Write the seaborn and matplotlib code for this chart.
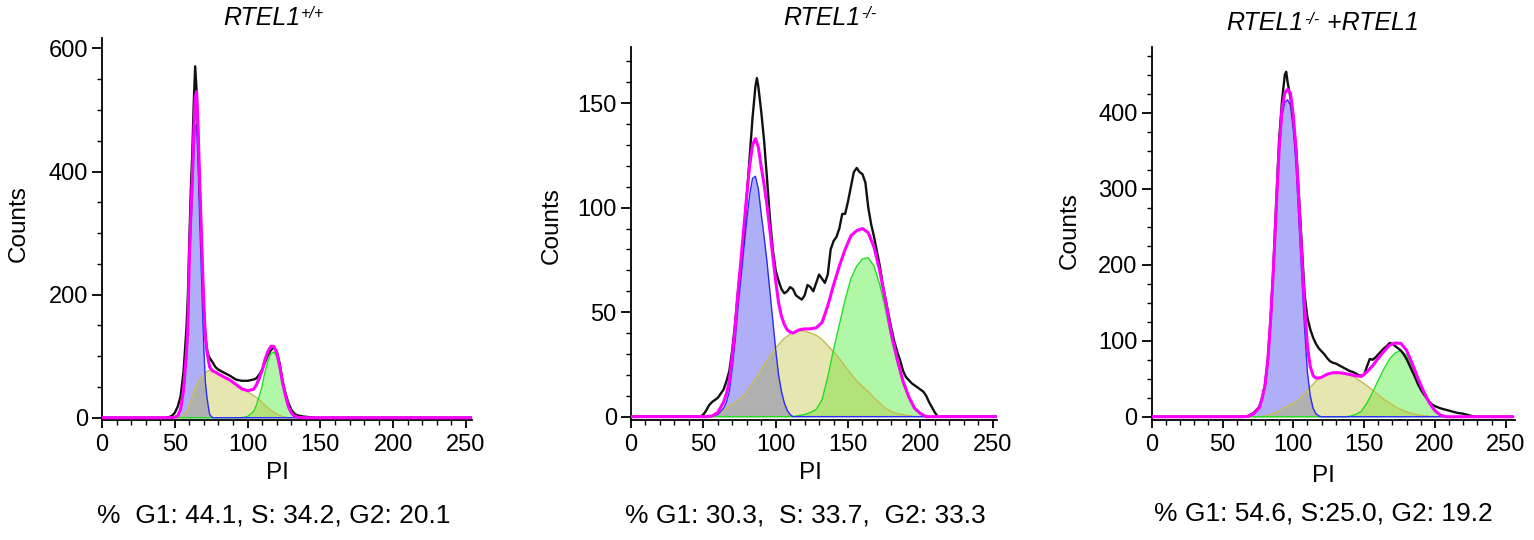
import numpy as np
import matplotlib
matplotlib.use("Agg")
import matplotlib.pyplot as plt
import seaborn as sns
from matplotlib.ticker import MultipleLocator

# ---------------------------------------------------------------- data
title_main = ["RTEL1", "RTEL1", "RTEL1"]
title_sup = ["+/+", "-/-", "-/-"]
title_tail = ["", "", " +RTEL1"]
stats_text = ["%  G1: 44.1, S: 34.2, G2: 20.1",
              "% G1: 30.3,  S: 33.7,  G2: 33.3",
              "% G1: 54.6, S:25.0, G2: 19.2"]
x_label = "PI"
y_label = "Counts"
x_ticks = [0, 50, 100, 150, 200, 250]
y_ticks_1 = [0, 200, 400, 600]
y_ticks_2 = [0, 50, 100, 150]
y_ticks_3 = [0, 100, 200, 300, 400]

# panel 1 : RTEL1 +/+
p1_pi = [0, 44, 46, 48, 50, 52, 54, 56, 58, 59, 60, 61, 62, 63, 64, 65, 66, 67, 68, 69,
         70, 71, 72, 73, 74, 76, 78, 80, 84, 88, 92, 96, 100, 104, 106, 108, 110, 112, 114, 116,
         118, 120, 122, 124, 126, 128, 130, 132, 134, 138, 142, 146, 255]
p1_raw = [0, 0, 1, 3, 8, 18, 35, 75, 145, 200, 290, 370, 430, 510, 571, 530, 460, 380, 310, 240,
          175, 135, 112, 102, 97, 90, 82, 78, 73, 68, 62, 60, 60, 62, 64, 70, 78, 90, 102, 110,
          114, 108, 88, 60, 40, 24, 13, 7, 4, 2, 1, 0, 0]
p1_g1 = [0, 0, 0, 0, 1, 3, 13, 41, 95, 136, 240, 303, 355, 418, 472, 477, 412, 328, 255, 178,
         110, 58, 35, 18, 5, 0, 0, 0, 0, 0, 0, 0, 0, 0, 0, 0, 0, 0, 0, 0,
         0, 0, 0, 0, 0, 0, 0, 0, 0, 0, 0, 0, 0]
p1_s = [0, 0, 0, 0, 0, 0, 1, 4, 10, 14, 20, 27, 35, 42, 48, 53, 58, 62, 65, 68,
        71, 73, 75, 76, 77, 76, 74, 71, 66, 61, 54, 47, 42, 36, 33, 29, 25, 20, 16, 12,
        9, 6, 4, 2, 1, 0, 0, 0, 0, 0, 0, 0, 0]
p1_g2 = [0, 0, 0, 0, 0, 0, 0, 0, 0, 0, 0, 0, 0, 0, 0, 0, 0, 0, 0, 0,
         0, 0, 0, 0, 0, 0, 0, 0, 0, 0, 0, 0, 2, 10, 20, 35, 52, 75, 92, 104,
         107, 100, 80, 55, 35, 18, 8, 3, 1, 0, 0, 0, 0]
p1_fit = [0, 0, 0, 0, 1, 3, 14, 45, 105, 150, 260, 330, 390, 460, 520, 530, 470, 390, 320, 246,
          181, 131, 110, 94, 82, 76, 74, 71, 66, 61, 54, 47, 44, 46, 53, 64, 77, 95, 108, 116,
          116, 106, 84, 57, 36, 18, 8, 3, 1, 0, 0, 0, 0]

# panel 2 : RTEL1 -/-
p2_pi = [0, 50, 52, 56, 60, 64, 66, 68, 70, 72, 74, 76, 78, 80, 82, 84, 86, 88, 90, 92,
         94, 96, 98, 100, 102, 104, 106, 108, 110, 112, 116, 120, 124, 128, 132, 136, 140, 144, 148, 152,
         156, 160, 164, 168, 172, 176, 180, 184, 188, 192, 196, 200, 204, 255]
p2_g1 = [0, 0, 0, 0.3, 1, 4, 7, 12, 23, 36, 52, 66, 80, 94, 106, 114, 115, 109, 97, 86,
         74, 60, 46, 32, 20, 12, 6.5, 3, 1, 0, 0, 0, 0, 0, 0, 0, 0, 0, 0, 0,
         0, 0, 0, 0, 0, 0, 0, 0, 0, 0, 0, 0, 0, 0]
p2_s = [0, 0, 0, 0, 1, 3, 4, 5, 6, 7, 8, 9, 10.5, 12, 14, 16, 18, 20, 22.5, 25,
        27, 29, 31, 33, 34.5, 36, 37.5, 38.5, 39.5, 40, 41, 41, 40, 39, 37, 34, 31, 28, 24, 20.5,
        17, 14.5, 12, 9, 6.5, 4, 2.5, 1.5, 1, 0.5, 0, 0, 0, 0]
p2_g2 = [0, 0, 0, 0, 0, 0, 0, 0, 0, 0, 0, 0, 0, 0, 0, 0, 0, 0, 0, 0,
         0, 0, 0, 0, 0, 0, 0, 0, 0, 0, 0.5, 1, 2, 3.5, 8, 19, 32, 44, 56, 66,
         72, 75.5, 76, 72, 63, 51, 37, 26, 16, 9, 4, 1.5, 0, 0]
p2_fit = [0, 0, 0, 0.3, 2, 7, 11, 17, 29, 43, 60, 75, 90.5, 106, 120, 130, 133, 129, 119.5, 111,
          101, 89, 77, 65, 54.5, 48, 44, 41.5, 40.5, 40, 41.5, 42, 42, 42.5, 45, 53, 63, 72, 80, 86.5,
          89, 90, 88, 81, 69.5, 55, 39.5, 27.5, 17, 9.5, 4, 1.5, 0, 0]
p2_raw_pi = [0, 48, 50, 52, 54, 56, 60, 64, 66, 68, 70, 72, 74, 76, 78, 80, 82, 84, 86, 87,
             88, 90, 92, 94, 96, 98, 100, 102, 104, 106, 108, 110, 112, 114, 116, 118, 120, 122, 124, 126,
             128, 130, 132, 134, 136, 138, 140, 142, 144, 146, 148, 150, 152, 154, 156, 158, 160, 162, 164, 166,
             168, 170, 172, 174, 176, 178, 180, 182, 184, 186, 188, 190, 194, 198, 202, 204, 206, 208, 210, 212,
             255]
p2_raw = [0, 0, 1, 3, 5.5, 7, 9, 13, 17, 22, 32, 45, 60, 73, 87, 105, 124, 143, 158, 162,
          158, 146, 132, 114, 95, 80, 70, 65, 61, 59, 60, 62, 61, 58, 57, 56, 58, 63, 62, 60,
          64, 68, 66, 64, 68, 80, 84, 86, 90, 97, 97, 103, 110, 117, 119, 117, 116, 112, 100, 92,
          86, 79, 72, 63, 56, 49, 42, 36, 31, 27, 22, 19, 16, 14, 12, 10, 7, 4.5, 2, 0,
          0]

# panel 3 : RTEL1 -/- + RTEL1
p3_pi = [0, 64, 68, 72, 76, 78, 80, 82, 84, 86, 88, 90, 92, 94, 96, 98, 100, 102, 104, 106,
         108, 110, 112, 114, 116, 118, 120, 124, 128, 132, 136, 140, 144, 148, 152, 156, 160, 164, 168, 172,
         176, 180, 184, 188, 192, 196, 200, 204, 208, 255]
p3_g1 = [0, 0, 0.5, 4, 12, 24, 40, 72, 125, 190, 270, 345, 395, 414, 417, 410, 378, 330, 258, 185,
         115, 58, 27, 11, 4, 1, 0, 0, 0, 0, 0, 0, 0, 0, 0, 0, 0, 0, 0, 0,
         0, 0, 0, 0, 0, 0, 0, 0, 0, 0]
p3_s = [0, 0, 0, 0, 0, 0.5, 1, 2, 3, 4.5, 6, 8, 10, 12, 14, 16, 18, 20.5, 23, 26.5,
        30, 34, 39, 43, 47, 50, 52, 56, 58, 58, 57, 55, 51, 46, 41, 35, 29, 23, 18, 13,
        9.5, 6.5, 4, 2.5, 1.5, 0.5, 0, 0, 0, 0]
p3_g2 = [0, 0, 0, 0, 0, 0, 0, 0, 0, 0, 0, 0, 0, 0, 0, 0, 0, 0, 0, 0,
         0, 0, 0, 0, 0, 0, 0, 0, 0, 0, 0, 0.5, 3, 7, 18, 32, 48, 63, 76, 84,
         87, 81, 66, 48, 32, 18, 8, 2, 0, 0]
p3_fit = [0, 0, 0.5, 4, 12, 24.5, 41, 74, 128, 194.5, 276, 353, 405, 426, 431, 426, 396, 350.5, 281, 211.5,
          145, 92, 66, 54, 51, 51, 52, 56, 58, 58, 57, 55.5, 54, 53, 59, 67, 77, 86, 94, 97,
          96.5, 87.5, 70, 50.5, 33.5, 18.5, 8, 2, 0, 0]
p3_raw_pi = [0, 64, 68, 72, 76, 78, 80, 82, 84, 86, 88, 90, 92, 94, 95, 96, 98, 100, 102, 104,
             106, 108, 110, 112, 114, 116, 118, 120, 122, 124, 126, 128, 130, 132, 134, 136, 138, 140, 142, 144,
             146, 148, 150, 152, 154, 156, 158, 160, 162, 164, 166, 168, 170, 172, 174, 176, 178, 180, 182, 184,
             186, 188, 190, 192, 194, 196, 198, 200, 204, 208, 212, 216, 220, 224, 228, 255]
p3_raw = [0, 0, 1, 5, 13, 25, 42, 75, 130, 200, 285, 365, 415, 450, 454, 440, 420, 390, 350, 290,
          225, 160, 130, 115, 104, 96, 90, 86, 82, 77, 73, 71, 70, 68, 66, 64, 62, 60, 59, 57,
          55, 54, 55, 66, 76, 75, 78, 82, 86, 90, 93, 97, 96, 93, 90, 87, 82, 76, 68, 60,
          52, 43, 36, 30, 25, 20, 16, 14, 11, 9, 7, 5, 4, 2, 0, 0]

# ---------------------------------------------------------------- style
sns.set_theme(style="ticks")
plt.rcParams["font.family"] = ["Liberation Sans", "DejaVu Sans"]
plt.rcParams["text.color"] = "black"
plt.rcParams["axes.labelcolor"] = "black"
plt.rcParams["xtick.color"] = "black"
plt.rcParams["ytick.color"] = "black"
plt.rcParams["xtick.labelcolor"] = "black"
plt.rcParams["ytick.labelcolor"] = "black"

C_G1_FILL, C_G1_EDGE = "#afaff8", "#2b2bff"
C_S_FILL, C_S_EDGE = "#e6e6b0", "#c4bc55"
C_G2_FILL, C_G2_EDGE = "#b0f7a8", "#22dd22"
C_G1S = "#b0b0b0"
C_SG2 = "#b3e27a"
C_FIT = "#ff00ff"
C_RAW = "#111111"

W, H = 1534, 540
fig = plt.figure(figsize=(W / 100, H / 100), dpi=100)

layout = [
    dict(left=102.0, axis_y=420.0, width=254 * 1.456, height=382.0, xmax=254, ylim=(-3.7, 617), ymin_step=50,
         yticks=y_ticks_1),
    dict(left=631.0, axis_y=420.0, width=253 * 1.4468, height=373.3, xmax=253, ylim=(-1.6, 177), ymin_step=10,
         yticks=y_ticks_2),
    dict(left=1151.7, axis_y=420.0, width=256.5 * 1.416, height=373.3, xmax=256.5, ylim=(-4.3, 487), ymin_step=25,
         yticks=y_ticks_3),
]
panels = [
    (p1_pi, p1_g1, p1_s, p1_g2, p1_fit, p1_pi, p1_raw),
    (p2_pi, p2_g1, p2_s, p2_g2, p2_fit, p2_raw_pi, p2_raw),
    (p3_pi, p3_g1, p3_s, p3_g2, p3_fit, p3_raw_pi, p3_raw),
]
xlabel_pos = [(277.0, 479.3), (810.5, 479.3), (1323.3, 481.7)]
ylabel_pos = [(18.8, 224.0), (551.7, 226.0), (1070.0, 231.0)]
title_pos = [(223.0, 25.0), (783.3, 25.0), (1226.0, 30.0)]
stats_pos = [(273.3, 523.0), (805.8, 522.0), (1323.8, 520.5)]

axes = []
for i, (lay, data) in enumerate(zip(layout, panels)):
    pi, g1, s, g2, fit, rpi, raw = [np.asarray(a, dtype=float) for a in data]
    ax = fig.add_axes([lay["left"] / W, 1 - lay["axis_y"] / H, lay["width"] / W, lay["height"] / H])
    axes.append(ax)

    ax.fill_between(pi, 0, g1, color=C_G1_FILL, lw=0, zorder=1)
    ax.fill_between(pi, 0, s, color=C_S_FILL, lw=0, zorder=1)
    ax.fill_between(pi, 0, g2, color=C_G2_FILL, lw=0, zorder=1)
    ax.fill_between(pi, 0, np.minimum(g1, s), color=C_G1S, lw=0, zorder=2)
    ax.fill_between(pi, 0, np.minimum(s, g2), color=C_SG2, lw=0, zorder=2)

    sns.lineplot(x=pi, y=s, ax=ax, color=C_S_EDGE, linewidth=1.0, zorder=3)
    sns.lineplot(x=pi, y=g2, ax=ax, color=C_G2_EDGE, linewidth=1.0, zorder=3)
    sns.lineplot(x=pi, y=g1, ax=ax, color=C_G1_EDGE, linewidth=1.0, zorder=3)
    sns.lineplot(x=rpi, y=raw, ax=ax, color=C_RAW, linewidth=1.7, zorder=4)
    sns.lineplot(x=pi, y=fit, ax=ax, color=C_FIT, linewidth=2.2, zorder=5)

    ax.set_xlim(0, lay["xmax"])
    ax.set_ylim(*lay["ylim"])
    ax.set_xticks(x_ticks)
    ax.set_yticks(lay["yticks"])
    ax.xaxis.set_minor_locator(MultipleLocator(10))
    ax.yaxis.set_minor_locator(MultipleLocator(lay["ymin_step"]))
    sns.despine(ax=ax)
    for sp in ("left", "bottom"):
        ax.spines[sp].set_linewidth(1.3)
        ax.spines[sp].set_color("black")
    ax.tick_params(axis="x", which="major", length=5.8, width=1.3, labelsize=17, pad=4.5,
                   color="black", labelcolor="black")
    ax.tick_params(axis="y", which="major", length=7.2, width=1.3, labelsize=17, pad=3,
                   color="black", labelcolor="black")
    ax.tick_params(which="minor", length=3.6, width=1.0, color="black")
    ax.set_facecolor("white")

    ax.set_xlabel(x_label, fontsize=17.5, va="baseline", ha="center", color="black")
    xl, yl = xlabel_pos[i]
    ax.xaxis.set_label_coords((xl - lay["left"]) / lay["width"], (lay["axis_y"] - yl) / lay["height"])
    ax.set_ylabel(y_label, fontsize=17.5, va="center", ha="center", color="black")
    yx, yy = ylabel_pos[i]
    ax.yaxis.set_label_coords((yx - lay["left"]) / lay["width"], (lay["axis_y"] - yy) / lay["height"])

    sx, sy = stats_pos[i]
    fig.text(sx / W, 1 - sy / H, stats_text[i], fontsize=19, ha="center", va="baseline", color="black")

# titles (italic, with superscript genotype)
fig.canvas.draw()
renderer = fig.canvas.get_renderer()
for i in range(3):
    tx, ty = title_pos[i]
    t = fig.text(tx / W, 1 - ty / H, title_main[i], fontsize=18, style="italic", ha="left",
                 va="baseline", color="black")
    bb = t.get_window_extent(renderer)
    sup = fig.text((bb.x1 + 1) / W, 1 - (ty - 6.5) / H, title_sup[i], fontsize=11.5, style="italic",
                   ha="left", va="baseline", color="black")
    if title_tail[i]:
        bb2 = sup.get_window_extent(renderer)
        fig.text((bb2.x1 + 1) / W, 1 - ty / H, title_tail[i], fontsize=18, style="italic",
                 ha="left", va="baseline", color="black")

fig.savefig("out.png", dpi=100, facecolor="white")
